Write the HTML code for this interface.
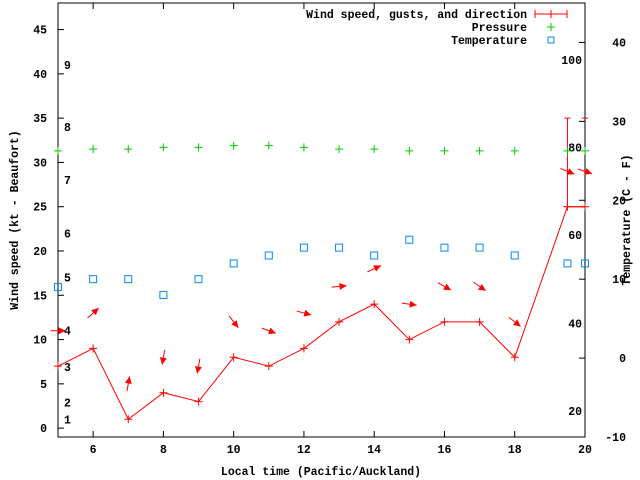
<!DOCTYPE html>
<html><head><meta charset="utf-8"><style>
html,body{margin:0;padding:0;background:#fff;}
svg{display:block;font-family:"Liberation Mono",monospace;font-weight:bold;font-size:11.5px;}
</style></head><body>
<svg id="chart" width="640" height="480" xmlns="http://www.w3.org/2000/svg">
<g id="axes"></g>
<g id="marks"></g>
<g id="legend">
<text x="527" y="18" text-anchor="end">Wind speed, gusts, and direction</text>
<line x1="535" y1="14" x2="567" y2="14" stroke="#f00"/>
<line x1="535" y1="10" x2="535" y2="18" stroke="#f00"/>
<line x1="567" y1="10" x2="567" y2="18" stroke="#f00"/>
<line x1="551" y1="10" x2="551" y2="18" stroke="#f00"/>
<text x="527" y="31" text-anchor="end">Pressure</text>
<path d="M547 27h8M551 23v8" stroke="#0c0"/>
<text x="527" y="44" text-anchor="end">Temperature</text>
<rect x="548" y="37" width="6" height="6" fill="none" stroke="#08f"/>
</g>
</svg>
<script>
const hours=[5,6,7,8,9,10,11,12,13,14,15,16,17,18,19.5,20];
const speed=[7,9,1,4,3,8,7,9,12,14,10,12,12,8,25,25];
const gustHours=[19.5];
const gustLow=[25];
const gustHigh=[35];
const arrowAngle=[0,-42,-80,100,100,52,20,15,-5,-25,8,30,35,38,22,18];
const pressure=[31.3,31.5,31.5,31.7,31.7,31.9,31.9,31.7,31.5,31.5,31.3,31.3,31.3,31.3,31.3,31.3];
const temperature=[9,10,10,8,10,12,13,14,14,13,15,14,14,13,12,12];
const xTicks=[6,8,10,12,14,16,18,20];
const yTicks=[0,5,10,15,20,25,30,35,40,45];
const y2Ticks=[-10,0,10,20,30,40];
const beaufortLabels=["1","2","3","4","5","6","7","8","9"];
const beaufortKt=[1,2.9,6.9,11.0,17.0,22.0,28.0,34.0,41.0];
const fLabels=["20","40","60","80","100"];
const fC=[-6.7,4.4,15.6,26.7,37.8];

const L=58,R=585,T=3,B=437;
const X=h=>L+(h-5)/15*(R-L);
const Y=v=>B-(v+1)/49*(B-T);
const Y2=c=>B-(c+10)/55*(B-T);
const NS="http://www.w3.org/2000/svg";
const axes=document.getElementById('axes'), marks=document.getElementById('marks');
function mk(tag,attrs,parent){const e=document.createElementNS(NS,tag);for(const k in attrs)e.setAttribute(k,attrs[k]);parent.appendChild(e);return e;}

let e=mk('rect',{x:L,y:T,width:R-L,height:B-T,fill:'none',stroke:'#000'},axes);


xTicks.forEach(t=>{
  let l=mk('path',{d:`M${X(t)} ${B}v-6M${X(t)} ${T}v6`,stroke:'#000'},axes);
  
  
  let tx=mk('text',{x:X(t),y:B+16,'text-anchor':'middle'},axes);tx.textContent=t;
  
  
});
yTicks.forEach(t=>{
  let l=mk('path',{d:`M${L} ${Y(t)}h6`,stroke:'#000'},axes);
  
  
  let tx=mk('text',{x:L-11,y:Y(t)+4,'text-anchor':'end'},axes);tx.textContent=t;
  
  
});
y2Ticks.forEach(t=>{
  let l=mk('path',{d:`M${R} ${Y2(t)}h-6`,stroke:'#000'},axes);
  
  
  let tx=mk('text',{x:R+41,y:Y2(t)+4,'text-anchor':'end'},axes);tx.textContent=t;
  
  
});
beaufortLabels.forEach((s,i)=>{
  let tx=mk('text',{x:64,y:Y(beaufortKt[i])+4},axes);tx.textContent=s;
  
  
});
fLabels.forEach((s,i)=>{
  let tx=mk('text',{x:582,y:Y2(fC[i])+4,'text-anchor':'end'},axes);tx.textContent=s;
  
  
});
let xt=mk('text',{x:321,y:475,'text-anchor':'middle'},axes);xt.textContent='Local time (Pacific/Auckland)';


let yt=mk('text',{x:0,y:0,'text-anchor':'middle',transform:'translate(18,220) rotate(-90)'},axes);yt.textContent='Wind speed (kt - Beaufort)';


let y2t=mk('text',{x:0,y:0,'text-anchor':'middle',transform:'translate(630,220) rotate(-90)'},axes);y2t.textContent='Temperature (C - F)';



// wind line
let pl=mk('polyline',{points:hours.map((h,i)=>X(h)+','+Y(speed[i])).join(' '),fill:'none',stroke:'#f00'},marks);


hours.forEach((h,i)=>{
  let p=mk('path',{d:`M${X(h)-4} ${Y(speed[i])}h8M${X(h)} ${Y(speed[i])-4}v8`,stroke:'#f00'},marks);
  
  
});
gustHours.forEach((h,i)=>{
  let x=X(h);
  let p=mk('path',{d:`M${x} ${Y(gustLow[i])}V${Y(gustHigh[i])}M${x-3} ${Y(gustHigh[i])}h6M${x-3} ${Y(gustLow[i])}h${R-x+3}M${R-3} ${Y(gustHigh[i])}h6`,stroke:'#f00'},marks);
  
  
});
// arrows
hours.forEach((h,i)=>{
  const a=arrowAngle[i]*Math.PI/180, len=15;
  const cx=X(h), cy=Y(speed[i]+4);
  const dx=Math.cos(a)*len/2, dy=Math.sin(a)*len/2;
  const hx=cx+dx, hy=cy+dy;
  const ux=Math.cos(a), uy=Math.sin(a);
  const bx=hx-ux*7, by=hy-uy*7;
  const g=mk('g',{},marks);
  
  
  mk('line',{x1:cx-dx,y1:cy-dy,x2:hx,y2:hy,stroke:'#f00'},g);
  mk('polygon',{points:`${hx},${hy} ${bx-uy*3.5},${by+ux*3.5} ${bx+uy*3.5},${by-ux*3.5}`,fill:'#f00'},g);
});
// pressure
hours.forEach((h,i)=>{
  let p=mk('path',{d:`M${X(h)-4} ${Y(pressure[i])}h8M${X(h)} ${Y(pressure[i])-4}v8`,stroke:'#0c0'},marks);
  
  
});
// temperature
hours.forEach((h,i)=>{
  let r=mk('rect',{x:X(h)-3.5,y:Y2(temperature[i])-3.5,width:7,height:7,fill:'none',stroke:'#08f'},marks);
  
  
});
</script>
</body></html>
